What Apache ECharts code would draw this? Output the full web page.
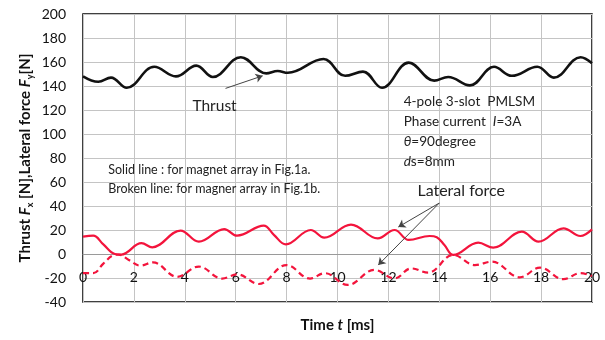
<!DOCTYPE html>
<html>
<head>
<meta charset="utf-8">
<script src="https://cdn.jsdelivr.net/npm/echarts@6/dist/echarts.min.js"></script>
<style>
  html, body { margin: 0; padding: 0; background: #fff; }
  #chart { width: 605px; height: 340px; }
</style>
</head>
<body>
<div id="chart"></div>
<script>
// Time axis [ms] and value axis [N] ticks
const xTicks = [0, 2, 4, 6, 8, 10, 12, 14, 16, 18, 20];
const yTicks = [-40, -20, 0, 20, 40, 60, 80, 100, 120, 140, 160, 180, 200];

// Thrust Fx (solid black)
const thrustT = [0, 0.6, 1.1, 1.72, 2.8, 3.65, 4.45, 5.1, 6.2, 7.2, 7.65, 8.05, 9.45, 10.3, 11.0, 11.75, 12.8, 13.8, 14.35, 15.2, 16.15, 16.85, 17.85, 18.5, 19.55, 20];
const thrustF = [148, 143.5, 147, 138.5, 156, 148, 157, 147.5, 164, 150.5, 152.5, 151, 162.5, 148.5, 152, 138.5, 159.5, 144.5, 147.5, 140.5, 156, 148.5, 156, 147, 164, 159];

// Lateral force Fy, magnet array of Fig.1a (solid red)
const latSolidT = [0, 0.4, 0.8, 1.25, 1.5, 2.3, 2.72, 3.83, 4.55, 5.55, 6.05, 7.1, 7.5, 7.97, 8.95, 9.48, 10.53, 11.58, 12.24, 12.8, 13.62, 13.9, 14.2, 14.55, 15.53, 16.12, 17.24, 17.9, 18.88, 19.54, 20];
const latSolidF = [14.5, 15.3, 8, 0, -0.5, 9, 5.6, 19.5, 10.3, 20.8, 15.3, 23.6, 16, 8, 20, 13.6, 24.5, 13, 20, 11.7, 15, 14, 7.5, -0.8, 9.4, 5.3, 18.6, 10.3, 21.4, 15, 20.5];

// Lateral force Fy, magnet array of Fig.1b (broken red)
const latBrokenT = [0, 0.4, 0.8, 1.2, 1.4, 1.8, 2.25, 2.75, 3.7, 4.55, 5.47, 6.06, 6.9, 8.0, 8.92, 9.5, 10.4, 11.45, 12.24, 12.9, 13.56, 14.55, 15.4, 16.06, 17.17, 17.96, 18.88, 19.54, 20];
const latBrokenF = [-16, -16, -8, -1, -0.5, -5, -9.7, -7, -19, -10.5, -20.5, -17, -25, -9.2, -20.5, -16, -25.8, -13.3, -20.3, -12, -15.5, -0.8, -9.2, -6.4, -19.4, -11.4, -21, -16, -18.3];

const pairs = (xs, ys) => xs.map((x, i) => [x, ys[i]]);

const FONT = 'Lato, "Open Sans", sans-serif';
const RED = '#f3143c';

const chart = echarts.init(document.getElementById('chart'));

const option = {
  animation: false,
  backgroundColor: '#fff',
  grid: {
    left: 83, right: 13, top: 14, bottom: 38,
    show: true, borderColor: '#000', borderWidth: 1.5, backgroundColor: 'transparent'
  },
  xAxis: {
    type: 'value',
    min: xTicks[0], max: xTicks[xTicks.length - 1], interval: 2,
    // horizontal axis crosses the value axis at 0 N
    offset: -48,
    axisLine: { onZero: false, lineStyle: { color: '#9a9a9a', width: 1 } },
    axisTick: { show: false },
    axisLabel: { margin: 16, color: '#111', fontSize: 14, fontFamily: FONT },
    splitLine: { lineStyle: { color: '#c4c4c4', width: 1 } }
  },
  yAxis: {
    type: 'value',
    min: yTicks[0], max: yTicks[yTicks.length - 1], interval: 20,
    axisLine: { show: false },
    axisTick: { show: false },
    axisLabel: { margin: 17, color: '#111', fontSize: 14, fontFamily: FONT },
    splitLine: { lineStyle: { color: '#c4c4c4', width: 1 } }
  },
  series: [
    {
      name: 'Thrust',
      type: 'line',
      data: pairs(thrustT, thrustF),
      smooth: 0.4,
      symbol: 'none',
      lineStyle: { color: '#111', width: 2.6 },
      markLine: {
        silent: true,
        symbol: ['none', 'arrow'],
        symbolSize: 7,
        label: { show: false },
        lineStyle: { color: '#444', width: 1, type: 'solid' },
        data: [
          [{ coord: [5.6, 138] }, { coord: [7.06, 148.5] }]
        ]
      }
    },
    {
      name: 'Lateral force (Fig.1a)',
      type: 'line',
      data: pairs(latSolidT, latSolidF),
      smooth: 0.4,
      symbol: 'none',
      lineStyle: { color: RED, width: 2.2 },
      markLine: {
        silent: true,
        symbol: ['none', 'arrow'],
        symbolSize: 7,
        label: { show: false },
        lineStyle: { color: '#444', width: 1, type: 'solid' },
        data: [
          [{ coord: [14.0, 42.5] }, { coord: [12.39, 22.5] }],
          [{ coord: [14.0, 42.5] }, { coord: [11.6, -9.2] }]
        ]
      }
    },
    {
      name: 'Lateral force (Fig.1b)',
      type: 'line',
      data: pairs(latBrokenT, latBrokenF),
      smooth: 0.4,
      symbol: 'none',
      lineStyle: { color: RED, width: 2.2, type: [6, 4] }
    }
  ]
};

chart.setOption(option);

// Text annotations placed in data units
const px = (t, v) => chart.convertToPixel({ gridIndex: 0 }, [t, v]);
const txt = (pos, text, extra) => Object.assign({
  type: 'text', x: pos[0], y: pos[1],
  style: Object.assign({ text: text, font: '12.5px ' + FONT, fill: '#222' }, extra || {})
});

const thrustPos = px(4.3, 123);
const specPos = px(12.6, 135.5);
const notePos = px(0.99, 62.5);
const latPos = px(13.14, 52.5);

const it = { fontStyle: 'italic', fontSize: 13.6, fontFamily: FONT };

chart.setOption({
  graphic: [
    txt(thrustPos, 'Thrust', { verticalAlign: 'middle', font: '15.5px ' + FONT }),
    txt(specPos, '4-pole 3-slot  PMLSM\nPhase current  {i|I}=3A\n{i|θ}=90degree\n{i|d}s=8mm', {
      lineHeight: 20, verticalAlign: 'top', font: '13.6px ' + FONT, rich: { i: it }
    }),
    txt(notePos, 'Solid line : for magnet array in Fig.1a.\nBroken line: for magner array in Fig.1b.', {
      lineHeight: 19, verticalAlign: 'middle'
    }),
    txt(latPos, 'Lateral force', { verticalAlign: 'middle', font: '16px ' + FONT }),
    {
      type: 'text', x: 25, y: 158, rotation: Math.PI / 2,
      style: {
        text: 'Thrust {it|F}{sub|x} [N],Lateral force {it|F}{sub|y}[N]',
        font: 'bold 15px ' + FONT, fill: '#111',
        align: 'center', verticalAlign: 'middle', lineHeight: 20,
        rich: {
          it: { fontStyle: 'italic', fontWeight: 'bold', fontSize: 15, fontFamily: FONT, lineHeight: 20 },
          sub: { fontSize: 9, fontWeight: 'bold', fontFamily: FONT, verticalAlign: 'bottom', lineHeight: 20 }
        }
      }
    },
    {
      type: 'text', x: (px(0, 0)[0] + px(20, 0)[0]) / 2, y: 325,
      style: {
        text: 'Time {it|t} [ms]',
        font: 'bold 15px ' + FONT, fill: '#111',
        align: 'center', verticalAlign: 'middle',
        rich: { it: { fontStyle: 'italic', fontWeight: 'bold', fontSize: 15, fontFamily: FONT } }
      }
    }
  ]
});
</script>
</body>
</html>
